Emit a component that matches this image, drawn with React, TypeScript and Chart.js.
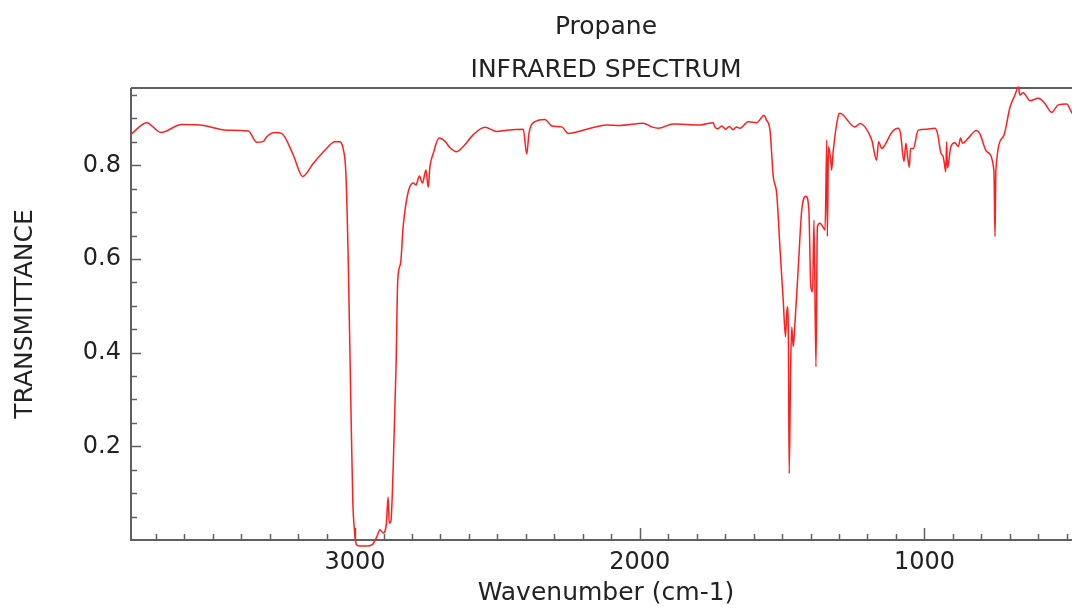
import { useEffect, useRef } from 'react';
import { Chart, registerables } from 'chart.js';

Chart.register(...registerables);

// ---- Data ----
const wavenumbers: number[] = [
  3787, 3732, 3682, 3609, 3545, 3451, 3375, 3345, 3322, 3310, 3281, 3258, 3217, 3184, 3147, 3100,
  3071, 3055, 3042, 3032, 3024, 3015, 3008, 3002, 2995, 2985, 2960, 2940, 2925, 2912, 2901, 2890,
  2884, 2880, 2874, 2866, 2856, 2850, 2840, 2831, 2813, 2795, 2786, 2774, 2763, 2751, 2743, 2737,
  2725, 2705, 2684, 2667, 2643, 2620, 2585, 2544, 2502, 2467, 2409, 2397, 2389, 2368, 2333, 2309,
  2274, 2251, 2186, 2116, 2070, 1988, 1958, 1935, 1882, 1788, 1742, 1736, 1725, 1712, 1698, 1686,
  1672, 1660, 1648, 1619, 1589, 1563, 1556, 1542, 1531, 1519, 1507, 1496, 1488, 1482, 1478, 1475,
  1470, 1466, 1461, 1457, 1443, 1431, 1416, 1406, 1399, 1393, 1388, 1381, 1376, 1367, 1357, 1349,
  1343, 1341, 1337, 1329, 1326, 1320, 1302, 1297, 1244, 1226, 1209, 1185, 1168, 1161, 1150, 1139,
  1115, 1092, 1084, 1072, 1065, 1059, 1053, 1049, 1039, 1022, 992, 963, 954, 942, 934, 930,
  925, 922, 919, 907, 893, 881, 873, 866, 846, 817, 805, 781, 756, 752, 749, 723,
  699, 682, 670, 665, 653, 629, 600, 577, 553, 530, 500, 481, 450,
];

const transmittance: number[] = [
  0.866, 0.891, 0.870, 0.887, 0.886, 0.875, 0.873, 0.849, 0.851, 0.861, 0.870, 0.868, 0.822, 0.776, 0.804, 0.836,
  0.850, 0.850, 0.836, 0.780, 0.600, 0.300, 0.085, 0.020, -0.010, -0.013, -0.013, -0.010, 0.005, 0.022, 0.015, 0.035,
  0.092, 0.036, 0.040, 0.156, 0.370, 0.555, 0.591, 0.669, 0.744, 0.762, 0.758, 0.777, 0.762, 0.790, 0.753, 0.797,
  0.826, 0.858, 0.851, 0.838, 0.829, 0.840, 0.865, 0.881, 0.872, 0.875, 0.877, 0.824, 0.868, 0.893, 0.898, 0.884,
  0.882, 0.868, 0.877, 0.886, 0.885, 0.890, 0.882, 0.879, 0.888, 0.886, 0.891, 0.882, 0.878, 0.884, 0.877, 0.883,
  0.876, 0.882, 0.879, 0.893, 0.891, 0.907, 0.898, 0.872, 0.776, 0.740, 0.619, 0.512, 0.434, 0.498, 0.441, 0.142,
  0.370, 0.455, 0.413, 0.441, 0.583, 0.704, 0.734, 0.705, 0.541, 0.530, 0.683, 0.370, 0.669, 0.676, 0.669, 0.662,
  0.854, 0.648, 0.840, 0.811, 0.790, 0.833, 0.907, 0.911, 0.882, 0.889, 0.882, 0.854, 0.811, 0.850, 0.836, 0.843,
  0.870, 0.879, 0.868, 0.808, 0.847, 0.818, 0.796, 0.836, 0.836, 0.875, 0.877, 0.879, 0.868, 0.826, 0.818, 0.804,
  0.786, 0.850, 0.794, 0.840, 0.848, 0.840, 0.858, 0.847, 0.858, 0.874, 0.867, 0.829, 0.790, 0.648, 0.790, 0.861,
  0.925, 0.950, 0.967, 0.950, 0.955, 0.938, 0.943, 0.932, 0.913, 0.929, 0.931, 0.911, 0.905,
];

const xMajorTicks: number[] = [3000, 2000, 1000];
const xMajorLabels: string[] = ['3000', '2000', '1000'];
const xMinorTicks: number[] = [
  3700, 3600, 3500, 3400, 3300, 3200, 3100, 2900, 2800, 2700, 2600, 2500, 2400, 2300, 2200, 2100,
  1900, 1800, 1700, 1600, 1500, 1400, 1300, 1200, 1100, 900, 800, 700, 600, 500,
];
const yMajorTicks: number[] = [0.2, 0.4, 0.6, 0.8];
const yMajorLabels: string[] = ['0.2', '0.4', '0.6', '0.8'];
const yMinorTicks: number[] = [0.05, 0.1, 0.15, 0.25, 0.3, 0.35, 0.45, 0.5, 0.55, 0.65, 0.7, 0.75, 0.85, 0.9, 0.95];

const chartTitle = 'Propane';
const chartSubtitle = 'INFRARED SPECTRUM';
const xAxisTitle = 'Wavenumber (cm-1)';
const yAxisTitle = 'TRANSMITTANCE';

const FONT = 'DejaVu Sans';
const TEXT_COLOR = '#222222';
const AXIS_COLOR = '#606060';

const framePlugin = {
  id: 'irFrame',
  beforeDatasetsDraw(chart: any) {
    const { ctx, chartArea, scales } = chart;
    const { left, top, right, bottom } = chartArea;
    const x = scales.x;
    const y = scales.y;
    ctx.save();
    ctx.strokeStyle = AXIS_COLOR;
    ctx.lineWidth = 2;
    ctx.beginPath();
    ctx.moveTo(left, top);
    ctx.lineTo(right, top);
    ctx.moveTo(left, top);
    ctx.lineTo(left, bottom);
    ctx.lineTo(right, bottom);
    ctx.stroke();

    ctx.lineWidth = 1.5;
    ctx.beginPath();
    xMinorTicks.forEach((v) => {
      const px = Math.round(x.getPixelForValue(v)) + 0.5;
      ctx.moveTo(px, bottom);
      ctx.lineTo(px, bottom - 6);
    });
    xMajorTicks.forEach((v) => {
      const px = Math.round(x.getPixelForValue(v)) + 0.5;
      ctx.moveTo(px, bottom);
      ctx.lineTo(px, bottom - 12);
    });
    yMinorTicks.forEach((v) => {
      const py = Math.round(y.getPixelForValue(v)) + 0.5;
      ctx.moveTo(left, py);
      ctx.lineTo(left + 6, py);
    });
    yMajorTicks.forEach((v) => {
      const py = Math.round(y.getPixelForValue(v)) + 0.5;
      ctx.moveTo(left, py);
      ctx.lineTo(left + 10, py);
    });
    ctx.stroke();
    ctx.restore();
  },
};

export default function App() {
  const canvasRef = useRef<HTMLCanvasElement | null>(null);

  useEffect(() => {
    const canvas = canvasRef.current;
    if (!canvas) return;
    const points = wavenumbers.map((w, i) => ({ x: w, y: transmittance[i] }));
    const chart = new Chart(canvas, {
      type: 'line',
      data: {
        datasets: [
          {
            data: points,
            borderColor: '#ff1f1f',
            borderWidth: 1.5,
            pointRadius: 0,
            fill: false,
            cubicInterpolationMode: 'monotone',
            clip: false as any,
          },
        ],
      },
      options: {
        animation: false,
        responsive: false,
        devicePixelRatio: 1,
        layout: { padding: { left: 0, right: 9, top: 0, bottom: 0 } },
        plugins: {
          legend: { display: false },
          tooltip: { enabled: false },
          title: {
            display: true,
            text: chartTitle,
            fullSize: false,
            color: TEXT_COLOR,
            font: { family: FONT, size: 25, weight: 'normal' },
            padding: { top: 12, bottom: 0 },
          },
          subtitle: {
            display: true,
            text: chartSubtitle,
            fullSize: false,
            color: TEXT_COLOR,
            font: { family: FONT, size: 25, weight: 'normal' },
            padding: { top: 13, bottom: 3 },
          },
        },
        scales: {
          x: {
            type: 'linear',
            reverse: true,
            min: 450,
            max: 3787,
            afterBuildTicks: (s: any) => {
              s.ticks = xMajorTicks.map((v) => ({ value: v }));
            },
            afterFit: (s: any) => {
              s.height = 70;
            },
            ticks: {
              autoSkip: false,
              maxRotation: 0,
              padding: 8,
              color: TEXT_COLOR,
              font: { family: FONT, size: 24 },
              callback: (value: any) => {
                const i = xMajorTicks.indexOf(Number(value));
                return i >= 0 ? xMajorLabels[i] : '';
              },
            },
            grid: { display: false, drawTicks: false },
            border: { display: false },
            title: {
              display: true,
              text: xAxisTitle,
              color: TEXT_COLOR,
              font: { family: FONT, size: 25 },
              padding: { top: 0, bottom: 2 },
            },
          },
          y: {
            type: 'linear',
            min: 0,
            max: 0.965,
            afterBuildTicks: (s: any) => {
              s.ticks = yMajorTicks.map((v) => ({ value: v }));
            },
            afterFit: (s: any) => {
              s.width = 131;
            },
            ticks: {
              autoSkip: false,
              padding: 10,
              color: TEXT_COLOR,
              font: { family: FONT, size: 24 },
              callback: (value: any) => {
                const i = yMajorTicks.indexOf(Number(value));
                return i >= 0 ? yMajorLabels[i] : '';
              },
            },
            grid: { display: false, drawTicks: false },
            border: { display: false },
            title: {
              display: true,
              text: yAxisTitle,
              color: TEXT_COLOR,
              font: { family: FONT, size: 25 },
              padding: { top: 10, bottom: 0 },
            },
          },
        },
      },
      plugins: [framePlugin],
    } as any);
    return () => chart.destroy();
  }, []);

  return (
    <div
      style={{
        position: 'fixed',
        left: 0,
        top: 0,
        width: 1072,
        height: 610,
        overflow: 'hidden',
        background: '#ffffff',
      }}
    >
      <canvas
        ref={canvasRef}
        width={1090}
        height={610}
        style={{ display: 'block', width: 1090, height: 610 }}
      />
    </div>
  );
}
